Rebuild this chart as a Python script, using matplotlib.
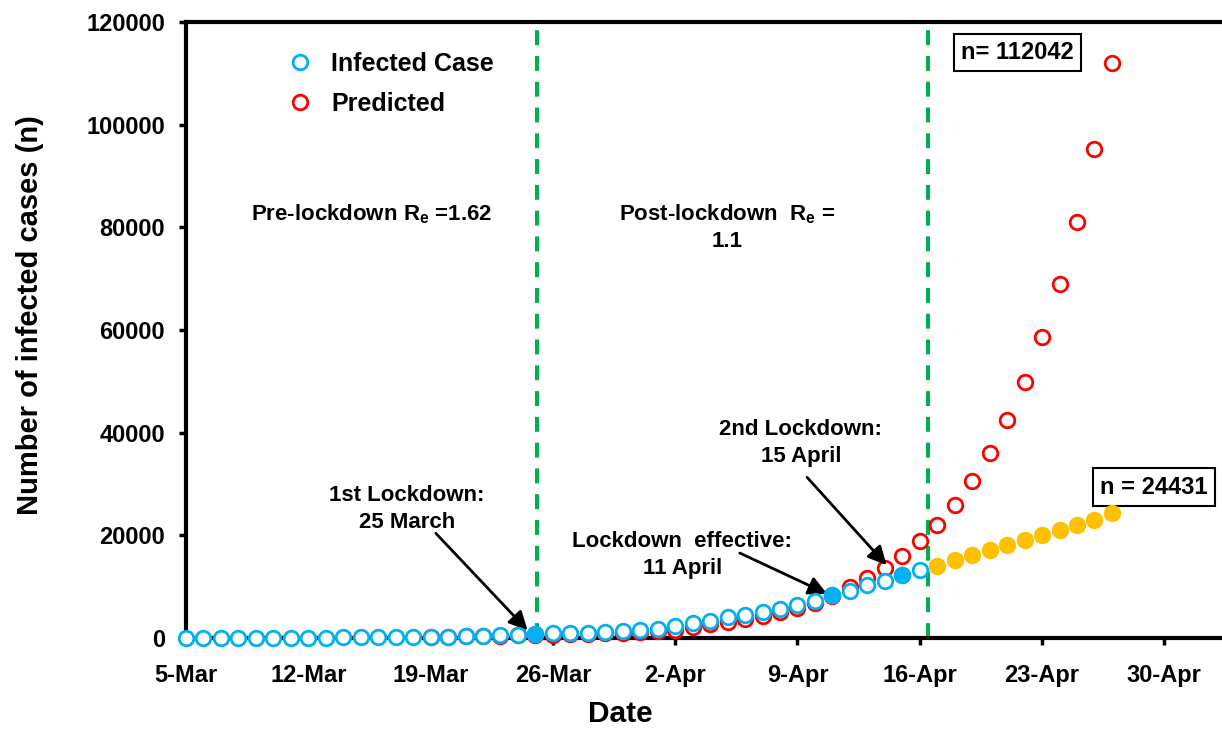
import matplotlib
matplotlib.use("Agg")
import matplotlib.pyplot as plt
import matplotlib.dates as mdates
from matplotlib.lines import Line2D
import pandas as pd

plt.rcParams['font.family'] = ['Liberation Sans', 'DejaVu Sans']
plt.rcParams['font.weight'] = 'bold'
plt.rcParams['mathtext.fontset'] = 'custom'
plt.rcParams['mathtext.rm'] = 'Liberation Sans:bold'
plt.rcParams['mathtext.it'] = 'Liberation Sans:bold'
plt.rcParams['mathtext.bf'] = 'Liberation Sans:bold'

# observed cases, 5 Mar - 16 Apr
obs_dates = pd.date_range('2020-03-05', '2020-04-16')
obs_cases = [30, 31, 34, 39, 43, 56, 62, 73, 82, 102, 113, 119, 142, 156,
             194, 244, 330, 400, 500, 650, 720, 880, 990, 1050, 1250, 1400, 1500,
             1850, 2300, 2850, 3300, 4000, 4500, 5100, 5700, 6400, 7250, 8400,
             9100, 10300, 11200, 12300, 13300]
key_dates = pd.to_datetime(['2020-03-25', '2020-04-11', '2020-04-15'])

# predicted (no lockdown), 19 Mar - 27 Apr
pred_dates = pd.date_range('2020-03-19', '2020-04-27')
pred_cases = [190, 240, 300, 370, 440, 510, 590, 660, 740, 830, 920, 1020, 1150,
              1350, 1650, 2200, 2700, 3200, 3700, 4300, 5000, 5900, 6800, 8200,
              10000, 11700, 13700, 16000, 18800, 22100, 25900, 30500, 36000,
              42400, 49800, 58600, 68900, 81000, 95200, 112042]

# projected with lockdown, 17 Apr - 27 Apr
proj_dates = pd.date_range('2020-04-17', '2020-04-27')
proj_cases = [14000, 15100, 16100, 17150, 18100, 19100, 20100, 21000, 22000,
              23000, 24431]

tick_dates = pd.date_range('2020-03-05', periods=9, freq='7D')
tick_labels = ['5-Mar', '12-Mar', '19-Mar', '26-Mar', '2-Apr', '9-Apr',
               '16-Apr', '23-Apr', '30-Apr']
lockdown_lines = pd.to_datetime(['2020-03-25 02:00', '2020-04-16 12:00'])

BLUE = '#00B0F0'
RED = '#FF0000'
ORANGE = '#FFC000'
GREEN = '#00B050'

fig = plt.figure(figsize=(12.22, 7.32), dpi=100)
ax = fig.add_axes([186 / 1222, 94 / 732, 1036 / 1222, 616 / 732])

for d in lockdown_lines:
    ax.axvline(d, color=GREEN, lw=2.9, ls=(0, (3.7, 2.7)), zorder=1)

ms = 10.5
ax.plot(pred_dates, pred_cases, 'o', ms=ms, mfc='white', mec=RED, mew=2,
        zorder=3, clip_on=False)
ax.plot(obs_dates, obs_cases, 'o', ms=ms, mfc='white', mec=BLUE, mew=2,
        zorder=4, clip_on=False)
obs = pd.Series(obs_cases, index=obs_dates)
ax.plot(key_dates, obs[key_dates].values, 'o', ms=ms, mfc=BLUE, mec=BLUE,
        mew=2, zorder=5, clip_on=False)
ax.plot(proj_dates, proj_cases, 'o', ms=ms, mfc=ORANGE, mec=ORANGE, mew=2,
        zorder=5, clip_on=False)

x0 = mdates.date2num(pd.Timestamp('2020-03-05'))
ax.set_xlim(x0, x0 + 59.3)
ax.set_ylim(0, 120000)
ax.set_xticks(tick_dates)
ax.set_xticklabels(tick_labels)
ax.set_yticks(range(0, 120001, 20000))

for side in ['left', 'bottom', 'top']:
    ax.spines[side].set_linewidth(3)
ax.spines['right'].set_visible(False)
ax.tick_params(direction='out', length=5, width=2.5, labelsize=17)
ax.tick_params(axis='y', pad=10)
ax.tick_params(axis='x', pad=14)

ax.set_xlabel('Date', fontsize=21.5, fontweight='bold')
ax.xaxis.label.set_va('center')
ax.xaxis.set_label_coords(0.419, -0.123)
ax.set_ylabel('Number of infected cases (n)', fontsize=21, fontweight='bold')
ax.yaxis.label.set_va('center')
ax.yaxis.set_label_coords(-0.1506, 0.524)

handles = [Line2D([], [], ls='none', marker='o', ms=ms, mfc='white', mec=BLUE, mew=2),
           Line2D([], [], ls='none', marker='o', ms=ms, mfc='white', mec=RED, mew=2)]
ax.legend(handles, ['Infected Case', 'Predicted'], loc='upper left',
          bbox_to_anchor=(0.098, 0.952), frameon=False, fontsize=18,
          handlelength=1.0, handletextpad=0.75, labelspacing=0.65,
          borderpad=0, borderaxespad=0)

def day(s):
    return pd.Timestamp('2020-03-05') + pd.Timedelta(days=s)

tkw = dict(fontsize=16, fontweight='bold', ha='center', va='center')
ax.text(day(10.65), 82600, 'Pre-lockdown R$_{e}$ =1.62', **tkw)
ax.text(day(31.0), 80000, 'Post-lockdown  R$_{e}$ =\n1.1', linespacing=1.35, **tkw)

ax.text(day(47.6), 114100, 'n= 112042', fontsize=17, fontweight='bold',
        ha='center', va='center',
        bbox=dict(boxstyle='square,pad=0.3', fc='white', ec='black', lw=1.5))
ax.text(day(55.4), 29400, 'n = 24431', fontsize=17, fontweight='bold',
        ha='center', va='center',
        bbox=dict(boxstyle='square,pad=0.3', fc='white', ec='black', lw=1.5))

akw = dict(arrowstyle='-|>', color='black', lw=2, mutation_scale=28,
           shrinkA=0, shrinkB=0)
ax.text(day(12.66), 25100, '1st Lockdown:\n25 March', linespacing=1.35, **tkw)
ax.annotate('', xy=(day(19.55), 1500), xytext=(day(14.3), 20400),
            arrowprops=akw)
ax.text(day(28.4), 16200, 'Lockdown  effective:\n11 April', linespacing=1.35, **tkw)
ax.annotate('', xy=(day(36.7), 8600), xytext=(day(31.7), 16550),
            arrowprops=akw)
ax.text(day(35.2), 38000, '2nd Lockdown:\n15 April', linespacing=1.35, **tkw)
ax.annotate('', xy=(day(40.1), 14200), xytext=(day(35.55), 31300),
            arrowprops=akw)

fig.savefig('out.png', dpi=100)
